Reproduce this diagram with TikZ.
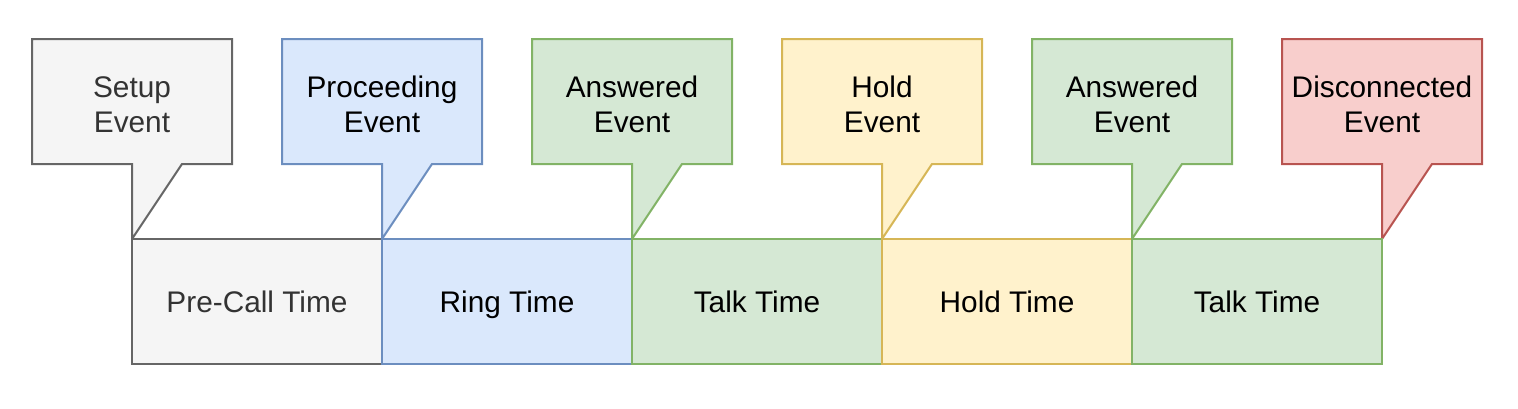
\documentclass[tikz,border=0pt]{standalone}
\usepackage{fontspec}
\setmainfont{Liberation Sans}
\definecolor{grayfill}{HTML}{F5F5F5}
\definecolor{graydraw}{HTML}{666666}
\definecolor{graytext}{HTML}{333333}
\definecolor{bluefill}{HTML}{DAE8FC}
\definecolor{bluedraw}{HTML}{6C8EBF}
\definecolor{greenfill}{HTML}{D5E8D4}
\definecolor{greendraw}{HTML}{82B366}
\definecolor{yellowfill}{HTML}{FFF2CC}
\definecolor{yellowdraw}{HTML}{D6B656}
\definecolor{redfill}{HTML}{F8CECC}
\definecolor{reddraw}{HTML}{B85450}
\tikzset{
  lbl/.style={font=\fontsize{29.8}{35.4}\selectfont, align=center, inner sep=0pt},
  phase/.style={draw, line width=2pt, minimum width=250pt, minimum height=125pt, inner sep=0pt,
    text height=21.5pt, text depth=0pt, font=\fontsize{29.8}{35.4}\selectfont},
  calloutline/.style={line width=2pt, line join=miter},
}
\begin{document}
\begin{tikzpicture}[x=1pt,y=-1pt]
\useasboundingbox (0,0) rectangle (1518,408);
% callouts
\filldraw[calloutline, fill=grayfill, draw=graydraw]
  (32,39) -- (232,39) -- (232,164) -- (182,164) -- (132,239) -- (132,164) -- (32,164) -- cycle;
\node[lbl, text=graytext] (ev1) at (132,104.5) {Setup\\Event};
\filldraw[calloutline, fill=bluefill, draw=bluedraw]
  (282,39) -- (482,39) -- (482,164) -- (432,164) -- (382,239) -- (382,164) -- (282,164) -- cycle;
\node[lbl] (ev2) at (382,104.5) {Proceeding\\Event};
\filldraw[calloutline, fill=greenfill, draw=greendraw]
  (532,39) -- (732,39) -- (732,164) -- (682,164) -- (632,239) -- (632,164) -- (532,164) -- cycle;
\node[lbl] (ev3) at (632,104.5) {Answered\\Event};
\filldraw[calloutline, fill=yellowfill, draw=yellowdraw]
  (782,39) -- (982,39) -- (982,164) -- (932,164) -- (882,239) -- (882,164) -- (782,164) -- cycle;
\node[lbl] (ev4) at (882,104.5) {Hold\\Event};
\filldraw[calloutline, fill=greenfill, draw=greendraw]
  (1032,39) -- (1232,39) -- (1232,164) -- (1182,164) -- (1132,239) -- (1132,164) -- (1032,164) -- cycle;
\node[lbl] (ev5) at (1132,104.5) {Answered\\Event};
\filldraw[calloutline, fill=redfill, draw=reddraw]
  (1282,39) -- (1482,39) -- (1482,164) -- (1432,164) -- (1382,239) -- (1382,164) -- (1282,164) -- cycle;
\node[lbl] (ev6) at (1382,104.5) {Disconnected\\Event};
% phases
\node[phase, fill=grayfill, draw=graydraw, text=graytext] (p1) at (257,301.5) {Pre-Call Time};
\node[phase, fill=bluefill, draw=bluedraw] (p2) at (507,301.5) {Ring Time};
\node[phase, fill=greenfill, draw=greendraw] (p3) at (757,301.5) {Talk Time};
\node[phase, fill=yellowfill, draw=yellowdraw] (p4) at (1007,301.5) {Hold Time};
\node[phase, fill=greenfill, draw=greendraw] (p5) at (1257,301.5) {Talk Time};
\end{tikzpicture}
\end{document}
